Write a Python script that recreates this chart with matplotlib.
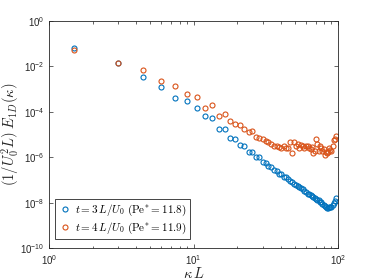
import matplotlib
matplotlib.use('Agg')
import matplotlib.pyplot as plt
from matplotlib.ticker import LogLocator, NullLocator, NullFormatter

plt.rcParams['mathtext.fontset'] = 'cm'
plt.rcParams['font.family'] = ['Liberation Sans', 'DejaVu Sans']

# wavenumbers kappa*L
kL = [1.5, 3.0, 4.5, 6.0, 7.5, 9.0, 10.5, 12.0, 13.5, 15.0,
      16.5, 18.0, 19.5, 21.0, 22.5, 24.0, 25.5, 27.0, 28.5, 30.0,
      31.5, 33.0, 34.5, 36.0, 37.5, 39.0, 40.5, 42.0, 43.5, 45.0,
      46.5, 48.0, 49.5, 51.0, 52.5, 54.0, 55.5, 57.0, 58.5, 60.0,
      61.5, 63.0, 64.5, 66.0, 67.5, 69.0, 70.5, 72.0, 73.5, 75.0,
      76.5, 78.0, 79.5, 81.0, 82.5, 84.0, 85.5, 87.0, 88.5, 90.0,
      91.5, 93.0, 94.5, 96.0]

# t = 3 L/U0
E_t3 = [6.2e-2, 1.4e-2, 3.2e-3, 1.2e-3, 4.0e-4, 2.8e-4, 1.5e-4, 6.3e-5, 5.1e-5, 1.7e-5,
        1.7e-5, 7.1e-6, 6.6e-6, 3.4e-6, 3.2e-6, 1.7e-6, 1.7e-6, 1.0e-6, 1.0e-6, 6.2e-7,
        5.8e-7, 4.1e-7, 3.8e-7, 2.7e-7, 2.4e-7, 1.8e-7, 1.8e-7, 1.4e-7, 1.3e-7, 1.05e-7,
        9.1e-8, 7.9e-8, 6.9e-8, 6.0e-8, 5.2e-8, 5.0e-8, 4.3e-8, 3.8e-8, 3.3e-8, 2.9e-8,
        2.5e-8, 2.3e-8, 2.2e-8, 1.9e-8, 1.8e-8, 1.55e-8, 1.45e-8, 1.35e-8, 1.26e-8, 1.1e-8,
        1.02e-8, 9.1e-9, 7.9e-9, 6.9e-9, 6.3e-9, 5.6e-9, 6.0e-9, 6.3e-9, 6.5e-9, 6.6e-9,
        7.6e-9, 1.0e-8, 1.12e-8, 1.6e-8]

# t = 4 L/U0
E_t4 = [4.9e-2, 1.4e-2, 6.5e-3, 2.2e-3, 1.35e-3, 6.0e-4, 4.3e-4, 1.5e-4, 2.0e-4, 6.3e-5,
        7.8e-5, 3.9e-5, 2.8e-5, 2.6e-5, 1.75e-5, 1.3e-5, 1.45e-5, 7.6e-6, 7.2e-6, 6.0e-6,
        5.0e-6, 4.6e-6, 3.6e-6, 3.0e-6, 2.95e-6, 2.75e-6, 2.6e-6, 2.95e-6, 2.6e-6, 2.4e-6,
        4.5e-6, 1.5e-6, 4.7e-6, 3.2e-6, 3.6e-6, 2.6e-6, 3.4e-6, 2.95e-6, 2.4e-6, 3.2e-6,
        2.95e-6, 2.6e-6, 2.2e-6, 2.75e-6, 1.5e-6, 1.95e-6, 6.2e-6, 3.6e-6, 1.8e-6, 2.95e-6,
        2.4e-6, 1.8e-6, 2.2e-6, 1.3e-6, 1.75e-6, 1.5e-6, 1.7e-6, 2.4e-6, 2.1e-6, 1.9e-6,
        3.2e-6, 5.5e-6, 6.3e-6, 8.1e-6]

labels = [r'$t=3\,L/U_0$ $(\mathrm{Pe}^{*}=11.8)$',
          r'$t=4\,L/U_0$ $(\mathrm{Pe}^{*}=11.9)$']
blue = '#0072BD'
orange = '#D95319'
axcol = '#262626'

fig = plt.figure(figsize=(3.74, 2.8), dpi=100)
ax = fig.add_axes([0.131, 0.114, 0.773, 0.812])

ax.loglog(kL, E_t3, 'o', mfc='none', mec=blue, ms=3.6, mew=0.8, label=labels[0])
ax.loglog(kL, E_t4, 'o', mfc='none', mec=orange, ms=3.6, mew=0.8, label=labels[1])

ax.set_xlim(1, 100)
ax.set_ylim(1e-10, 1)
ax.xaxis.set_major_locator(LogLocator(base=10, numticks=10))
ax.xaxis.set_minor_locator(LogLocator(base=10, subs=range(2, 10), numticks=20))
ax.xaxis.set_minor_formatter(NullFormatter())
ax.set_yticks([1e-10, 1e-8, 1e-6, 1e-4, 1e-2, 1])
ax.yaxis.set_minor_locator(NullLocator())

ax.tick_params(which='both', direction='in', top=True, right=True,
               colors=axcol, labelsize=7, width=0.5)
ax.tick_params(which='major', length=3)
ax.tick_params(which='minor', length=1.8)
for s in ax.spines.values():
    s.set_color(axcol)
    s.set_linewidth(0.6)

ax.set_xlabel(r'$\kappa\,L$', fontsize=10.5, color=axcol)
ax.xaxis.set_label_coords(0.5, -0.08)
ax.set_ylabel(r'$(1/U_0^2L)\ E_{1D}(\kappa)$', fontsize=10.5, color=axcol)
ax.yaxis.set_label_coords(-0.092, 0.5)

leg = ax.legend(loc='lower left', bbox_to_anchor=(0.022, 0.04), fontsize=8,
                fancybox=False, edgecolor=axcol, framealpha=1, handletextpad=0.3,
                handlelength=1.2, borderpad=0.3, labelspacing=0.25, borderaxespad=0)
leg.get_frame().set_linewidth(0.6)

fig.savefig('out.png', dpi=100)
